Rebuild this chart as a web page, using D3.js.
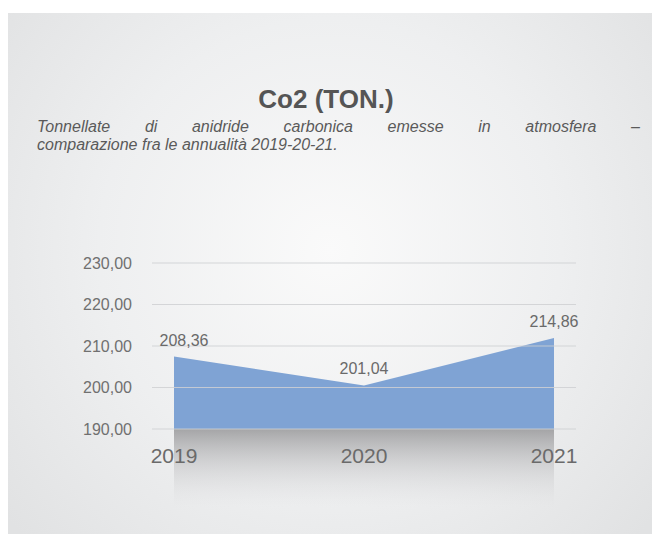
<!DOCTYPE html>
<html><head><meta charset="utf-8">
<script src="https://cdn.jsdelivr.net/npm/d3@7"></script>
<style>html,body{margin:0;padding:0;background:#fff;}svg{display:block;}</style>
</head><body>
<svg id="chart" width="652" height="534"></svg>
<script>
const years = ["2019", "2020", "2021"];
const values = [207.45, 200.5, 211.9];          // area heights as drawn
const valueLabels = ["208,36", "201,04", "214,86"];
const yTicks = [190, 200, 210, 220, 230];
const yTickLabels = ["190,00", "200,00", "210,00", "220,00", "230,00"];
const title = "Co2 (TON.)";
const subtitleLine1 = "Tonnellate di anidride carbonica emesse in atmosfera –";
const subtitleLine2 = "comparazione fra le annualità 2019-20-21.";

const svg = d3.select("#chart");
const W = 652, H = 534;
const defs = svg.append("defs");
const bg = defs.append("radialGradient").attr("id","bg")
  .attr("gradientUnits","userSpaceOnUse").attr("cx",330).attr("cy",250).attr("r",420);
bg.append("stop").attr("offset","0").attr("stop-color","#fafafa");
bg.append("stop").attr("offset","0.55").attr("stop-color","#eeeff0");
bg.append("stop").attr("offset","1").attr("stop-color","#e1e2e3");
const sh = defs.append("linearGradient").attr("id","shadow").attr("x1",0).attr("y1",0).attr("x2",0).attr("y2",1);
sh.append("stop").attr("offset","0").attr("stop-color","#8c8c8e").attr("stop-opacity",0.75);
sh.append("stop").attr("offset","0.45").attr("stop-color","#b4b4b6").attr("stop-opacity",0.45);
sh.append("stop").attr("offset","1").attr("stop-color","#d8d8da").attr("stop-opacity",0);

svg.append("rect").attr("x",8).attr("y",13).attr("width",W-8).attr("height",H-13).attr("fill","url(#bg)");

const font = "'Liberation Sans', Arial, Helvetica, sans-serif";

const x = d3.scalePoint().domain(years).range([174, 554]);
const y = d3.scaleLinear().domain([190, 230]).range([429, 263]);

// shadow under the area
svg.append("rect")
  .attr("x", x(years[0])).attr("y", y(190))
  .attr("width", x(years[2]) - x(years[0])).attr("height", 78)
  .attr("fill", "url(#shadow)");

// area
const data = years.map((yr, i) => ({yr, v: values[i], label: valueLabels[i]}));
svg.append("path").datum(data)
  .attr("fill", "#7fa3d4")
  .attr("d", d3.area().x(d => x(d.yr)).y0(y(190)).y1(d => y(d.v)));

// gridlines
svg.append("g").selectAll("line").data(yTicks).join("line")
  .attr("x1", 152).attr("x2", 576)
  .attr("y1", d => y(d)).attr("y2", d => y(d))
  .attr("stroke", "#cfd0d2").attr("stroke-opacity", 0.85).attr("stroke-width", 1.2);

// y labels
svg.append("g").selectAll("text").data(yTicks).join("text")
  .attr("x", 132).attr("y", d => y(d)).attr("dy", "0.36em")
  .attr("text-anchor", "end")
  .attr("font-family", font).attr("font-size", 16).attr("fill", "#707070")
  .text((d, i) => yTickLabels[i]);

// x labels
svg.append("g").selectAll("text").data(years).join("text")
  .attr("x", d => x(d)).attr("y", 463)
  .attr("text-anchor", "middle")
  .attr("font-family", font).attr("font-size", 21).attr("fill", "#6a6a6a")
  .text(d => d);

// value labels (first one nudged inside the plot)
svg.append("g").selectAll("text").data(data).join("text")
  .attr("x", (d, i) => x(d.yr) + (i === 0 ? 10 : 0)).attr("y", d => y(d.v) - 11)
  .attr("text-anchor", "middle")
  .attr("font-family", font).attr("font-size", 16).attr("fill", "#6a6a6a")
  .text(d => d.label);

// title
svg.append("text").attr("x", 326).attr("y", 108)
  .attr("text-anchor", "middle")
  .attr("font-family", font).attr("font-size", 26).attr("font-weight", "bold").attr("fill", "#555")
  .text(title);

// subtitle line 1 (justified)
const x0 = 37, x1 = 640;
const words = subtitleLine1.split(" ");
const g1 = svg.append("g");
const wt = g1.selectAll("text").data(words).join("text")
  .attr("y", 132)
  .attr("font-family", font).attr("font-size", 16).attr("font-style", "italic").attr("fill", "#5a5a5a")
  .text(d => d);
const widths = [];
wt.each(function(){ widths.push(this.getComputedTextLength()); });
const total = d3.sum(widths);
const gap = (x1 - x0 - total) / (words.length - 1);
let cx = x0;
wt.attr("x", (d, i) => { const p = cx; cx += widths[i] + gap; return p; });

svg.append("text").attr("x", x0).attr("y", 150)
  .attr("font-family", font).attr("font-size", 16).attr("font-style", "italic").attr("fill", "#5a5a5a")
  .text(subtitleLine2);
</script>
</body></html>
